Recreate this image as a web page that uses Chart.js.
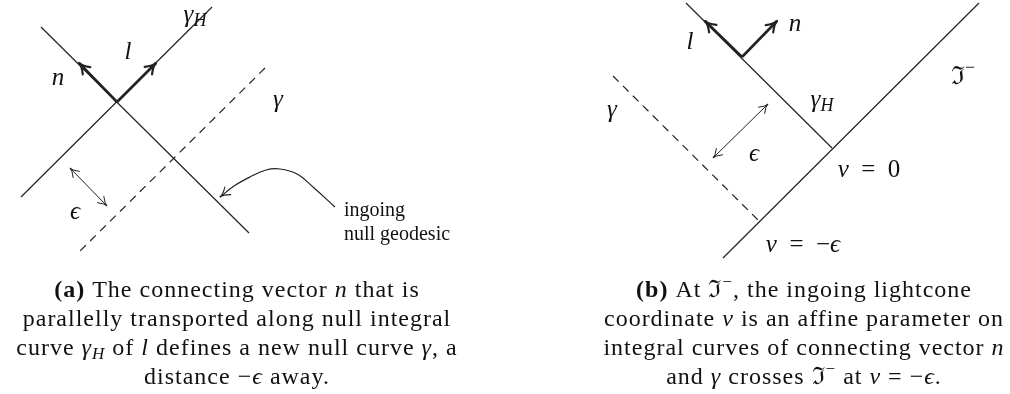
<!DOCTYPE html>
<html>
<head>
<meta charset="utf-8">
<script src="https://cdn.jsdelivr.net/npm/chart.js@4.4.1/dist/chart.umd.min.js"></script>
<style>
  html, body { margin: 0; padding: 0; background: #fff; }
  canvas { display: block; }
</style>
</head>
<body>
<canvas id="diagram" width="1010" height="394"></canvas>
<script>
// --- left panel (a): line segments in picture units ---
const horizonA = [[21, 197], [212, 7]];
const ingoingA = [[41, 27], [249, 233]];
const gammaA = [[265, 68], [78, 253]];
const nVecA = [[117, 102], [79, 63]];
const lVecA = [[117, 102], [156, 63]];
const epsA = [[70, 168], [107, 206]];
const pointerA = [[335, 207], [313, 187], [297, 174], [280, 169], [266, 170], [250, 177], [234, 186], [220, 197]];

// --- right panel (b) ---
const scriB = [[723, 258], [979, 3]];
const horizonB = [[686, 3], [832, 148]];
const gammaB = [[613, 76], [758, 220]];
const lVecB = [[742, 57], [705, 21]];
const nVecB = [[742, 57], [777, 21]];
const epsB = [[768, 104], [713, 158]];

const INK = "#222";
const SERIF = "'Liberation Serif', 'DejaVu Serif', serif";

function seg(points, extra) {
  return Object.assign({
    data: points.map(p => ({ x: p[0], y: p[1] })),
    showLine: true,
    pointRadius: 0,
    borderColor: INK,
    borderWidth: 1.2,
    fill: false
  }, extra || {});
}

// labels: [text pieces, x, y]
const diagramLabels = [
  [[["n", "i"]], 58, 78],
  [[["l", "i"]], 128, 52],
  [[["γ", "i"], ["H", "sub"]], 195, 15],
  [[["γ", "i"]], 278, 100],
  [[["ϵ", "i"]], 75, 212],
  [[["l", "i"]], 690, 42],
  [[["n", "i"]], 795, 24],
  [[["γ", "i"]], 612, 110],
  [[["γ", "i"], ["H", "sub"]], 822, 100],
  [[["ϵ", "i"]], 754, 154],
  [[["v", "i"], ["  =  0", "r"]], 869, 170],
  [[["v", "i"], ["  =  −", "r"], ["ϵ", "i"]], 803, 245],
  [[["ℑ", "r"], ["−", "sup"]], 963, 77]
];

const captionA = [
  [["(a)", "b"], [" The connecting vector ", "r"], ["n", "i"], [" that is", "r"]],
  [["parallelly transported along null integral", "r"]],
  [["curve ", "r"], ["γ", "i"], ["H", "sub"], [" of ", "r"], ["l", "i"], [" defines a new null curve ", "r"], ["γ", "i"], [", a", "r"]],
  [["distance −", "r"], ["ϵ", "i"], [" away.", "r"]]
];
const captionB = [
  [["(b)", "b"], [" At ", "r"], ["ℑ", "r"], ["−", "sup"], [", the ingoing lightcone", "r"]],
  [["coordinate ", "r"], ["v", "i"], [" is an affine parameter on", "r"]],
  [["integral curves of connecting vector ", "r"], ["n", "i"]],
  [["and ", "r"], ["γ", "i"], [" crosses ", "r"], ["ℑ", "r"], ["−", "sup"], [" at ", "r"], ["v", "i"], [" = −", "r"], ["ϵ", "i"], [".", "r"]]
];
const captionLineY = [291, 320, 349, 378];

function fontFor(style, size) {
  if (style === "b") return "bold " + size + "px " + SERIF;
  if (style === "i") return "italic " + size + "px " + SERIF;
  if (style === "sub") return "italic " + Math.round(size * 0.7) + "px " + SERIF;
  if (style === "sup") return Math.round(size * 0.7) + "px " + SERIF;
  return size + "px " + SERIF;
}

function drawRich(ctx, pieces, cx, cy, size, spacing) {
  ctx.letterSpacing = (spacing || 0) + "px";
  let total = 0;
  const widths = pieces.map(p => {
    ctx.font = fontFor(p[1], size);
    const w = ctx.measureText(p[0]).width;
    total += w;
    return w;
  });
  let x = cx - total / 2;
  pieces.forEach((p, i) => {
    ctx.font = fontFor(p[1], size);
    let dy = 0;
    if (p[1] === "sub") dy = size * 0.25;
    if (p[1] === "sup") dy = -size * 0.35;
    ctx.fillText(p[0], x, cy + dy);
    x += widths[i];
  });
  ctx.letterSpacing = "0px";
}

function drawHead(ctx, from, to, len, spread, width) {
  const a = Math.atan2(to.y - from.y, to.x - from.x);
  ctx.save();
  ctx.strokeStyle = INK;
  ctx.lineWidth = width;
  ctx.lineCap = "round";
  ctx.lineJoin = "round";
  ctx.beginPath();
  ctx.moveTo(to.x - len * Math.cos(a - spread), to.y - len * Math.sin(a - spread));
  ctx.quadraticCurveTo(to.x - len * 0.35 * Math.cos(a), to.y - len * 0.35 * Math.sin(a), to.x, to.y);
  ctx.quadraticCurveTo(to.x - len * 0.35 * Math.cos(a), to.y - len * 0.35 * Math.sin(a),
    to.x - len * Math.cos(a + spread), to.y - len * Math.sin(a + spread));
  ctx.stroke();
  ctx.restore();
}

const overlay = {
  id: "overlay",
  afterDatasetsDraw(chart) {
    const ctx = chart.ctx;
    const xs = chart.scales.x, ys = chart.scales.y;
    const px = p => ({ x: xs.getPixelForValue(p.x), y: ys.getPixelForValue(p.y) });

    chart.data.datasets.forEach(ds => {
      const pts = ds.data;
      const n = pts.length;
      if (ds.arrowEnd) drawHead(ctx, px(pts[n - 2]), px(pts[n - 1]), ds.arrowEnd, 0.45, ds.headWidth || 1.2);
      if (ds.arrowStart) drawHead(ctx, px(pts[1]), px(pts[0]), ds.arrowStart, 0.45, ds.headWidth || 1.2);
    });

    ctx.save();
    ctx.fillStyle = "#111";
    ctx.textBaseline = "middle";
    diagramLabels.forEach(l => {
      const p = px({ x: l[1], y: l[2] });
      drawRich(ctx, l[0], p.x, p.y, 25, 0);
    });

    ctx.font = "20px " + SERIF;
    ctx.textAlign = "left";
    const t1 = px({ x: 344, y: 211 });
    const t2 = px({ x: 344, y: 235 });
    ctx.fillText("ingoing", t1.x, t1.y);
    ctx.fillText("null geodesic", t2.x, t2.y);

    captionA.forEach((line, i) => {
      const p = px({ x: 237, y: captionLineY[i] });
      drawRich(ctx, line, p.x, p.y, 24, 1.0);
    });
    captionB.forEach((line, i) => {
      const p = px({ x: 804, y: captionLineY[i] });
      drawRich(ctx, line, p.x, p.y, 24, 1.0);
    });
    ctx.restore();
  }
};

new Chart(document.getElementById("diagram"), {
  type: "scatter",
  data: {
    datasets: [
      seg(horizonA),
      seg(ingoingA),
      seg(gammaA, { borderDash: [8, 6] }),
      seg(nVecA, { borderWidth: 2.6, arrowEnd: 12, headWidth: 2.2 }),
      seg(lVecA, { borderWidth: 2.6, arrowEnd: 12, headWidth: 2.2 }),
      seg(epsA, { borderWidth: 1, arrowEnd: 10, arrowStart: 10, headWidth: 1 }),
      seg(pointerA, { tension: 0.4, arrowEnd: 11, headWidth: 1.1 }),
      seg(scriB),
      seg(horizonB),
      seg(gammaB, { borderDash: [8, 6] }),
      seg(lVecB, { borderWidth: 2.6, arrowEnd: 12, headWidth: 2.2 }),
      seg(nVecB, { borderWidth: 2.6, arrowEnd: 12, headWidth: 2.2 }),
      seg(epsB, { borderWidth: 1, arrowEnd: 10, arrowStart: 10, headWidth: 1 })
    ]
  },
  options: {
    responsive: false,
    animation: false,
    layout: { padding: 0 },
    scales: {
      x: { type: "linear", min: 0, max: 1010, display: false },
      y: { type: "linear", min: 0, max: 394, reverse: true, display: false }
    },
    plugins: {
      legend: { display: false },
      tooltip: { enabled: false }
    }
  },
  plugins: [overlay]
});
</script>
</body>
</html>
